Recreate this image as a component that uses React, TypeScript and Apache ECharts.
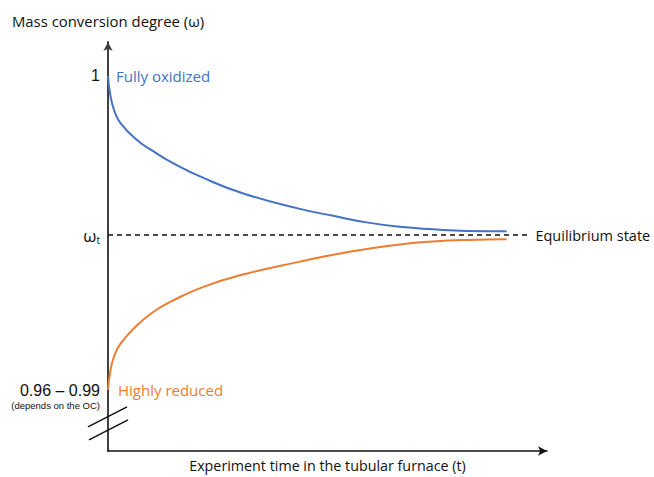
import React, { useEffect, useRef } from "react";
import * as echarts from "echarts";

// time (relative units, 0..100) and mass conversion degree (relative units, 0..100)
const timeValues = [0, 0.46, 1.37, 2.89, 6.67, 10.47, 14.28, 21.87, 31.0, 43.7, 51.3, 58.9, 66.5, 74.0, 81.7, 90.8];
const oxidizedValues = [91.7, 87.5, 83.4, 80.1, 76.0, 73.2, 70.7, 66.7, 62.9, 59.2, 57.5, 55.9, 54.8, 54.2, 53.8, 53.7];
const reducedValues = [14.9, 19.0, 23.1, 26.3, 30.8, 34.1, 36.5, 40.2, 43.2, 46.3, 48.0, 49.4, 50.5, 51.2, 51.6, 51.8];
const equilibriumValue = 52.8;
const equilibriumEnd = 96.0;
// break marks on the y axis: [x1, y1, x2, y2]
const breakMarks = [
  [-4.56, 5.9, 4.33, 10.8],
  [-4.33, 2.7, 4.56, 7.6],
];
const yTickValues = [reducedValues[0], equilibriumValue, oxidizedValues[0]];
const yTickLabels = [
  "{e| }\n{a|0.96 – 0.99}\n{b|(depends on the OC)}",
  "{w|ω}{s|t}",
  "{a|1}",
];

const BLUE = "#4472C4";
const ORANGE = "#ED7D31";
const FONT = "'Open Sans', sans-serif";

export default function App() {
  const ref = useRef<HTMLDivElement>(null);
  useEffect(() => {
    if (!ref.current) return;
    const chart = echarts.init(ref.current, undefined, { renderer: "svg" });
    const blue = timeValues.map((t, i) => [t, oxidizedValues[i]]);
    const orange = timeValues.map((t, i) => [t, reducedValues[i]]);
    chart.setOption({
      animation: false,
      backgroundColor: "#ffffff",
      grid: { left: 108, right: 107, top: 42, bottom: 26, containLabel: false, outerBoundsMode: "none" },
      xAxis: {
        type: "value",
        min: 0,
        max: 100,
        name: "Experiment time in the tubular furnace (t)",
        nameLocation: "middle",
        nameGap: 7,
        nameTextStyle: { fontFamily: FONT, fontSize: 14.3, color: "#111" },
        axisLine: { show: true, lineStyle: { color: "#111", width: 1.5 }, symbol: ["none", "arrow"], symbolSize: [7, 9] },
        axisTick: { show: false },
        axisLabel: { show: false },
        splitLine: { show: false },
      },
      yAxis: {
        type: "value",
        min: 0,
        max: 100,
        name: "Mass conversion degree (ω)",
        nameLocation: "end",
        nameGap: 14,
        nameTextStyle: { fontFamily: FONT, fontSize: 14.9, color: "#111" },
        axisLine: { show: true, lineStyle: { color: "#404040", width: 2 }, symbol: ["none", "arrow"], symbolSize: [7, 9] },
        axisTick: { show: false },
        splitLine: { show: false },
        axisLabel: {
          show: true,
          customValues: yTickValues,
          margin: 8,
          formatter: (v: number) => {
            const i = yTickValues.findIndex((x) => Math.abs(x - v) < 1e-6);
            return i >= 0 ? yTickLabels[i] : "";
          },
          rich: {
            e: { fontSize: 9.5, lineHeight: 13 },
            a: { fontFamily: "'Liberation Sans', Arial, sans-serif", fontSize: 16, lineHeight: 18, color: "#111", align: "right" },
            b: { fontFamily: "'Liberation Sans', Arial, sans-serif", fontSize: 9.5, lineHeight: 13, color: "#111", align: "right" },
            w: { fontFamily: FONT, fontSize: 17, color: "#111" },
            s: { fontFamily: FONT, fontSize: 10, color: "#111", padding: [9, 0, 0, 0] },
          },
        },
      },
      series: [
        {
          type: "line",
          data: blue,
          showSymbol: false,
          smooth: 0.5,
          lineStyle: { color: BLUE, width: 2 },
          itemStyle: { color: BLUE },
          markPoint: {
            symbol: "circle",
            symbolSize: 0,
            data: [
              {
                coord: blue[0],
                label: { show: true, position: "right", distance: 8, formatter: "Fully oxidized", color: BLUE, fontFamily: FONT, fontSize: 15 },
              },
            ],
          },
          z: 3,
        },
        {
          type: "line",
          data: orange,
          showSymbol: false,
          smooth: 0.5,
          lineStyle: { color: ORANGE, width: 2 },
          itemStyle: { color: ORANGE },
          markPoint: {
            symbol: "circle",
            symbolSize: 0,
            data: [
              {
                coord: orange[0],
                label: { show: true, position: "right", distance: 10, formatter: "Highly reduced", color: ORANGE, fontFamily: FONT, fontSize: 15 },
              },
            ],
          },
          z: 3,
        },
        {
          type: "line",
          data: [
            [0, equilibriumValue],
            [equilibriumEnd, equilibriumValue],
          ],
          showSymbol: false,
          lineStyle: { color: "#111", width: 1.5, type: [5, 4] },
          itemStyle: { color: "#111" },
          endLabel: { show: true, formatter: "Equilibrium state", distance: 6, color: "#111", fontFamily: FONT, fontSize: 14.5 },
          z: 2,
        },
        {
          type: "custom",
          clip: false,
          data: breakMarks,
          encode: { x: [0, 2], y: [1, 3] },
          renderItem: (params: any, api: any) => {
            const p1 = api.coord([api.value(0), api.value(1)]);
            const p2 = api.coord([api.value(2), api.value(3)]);
            return {
              type: "line",
              shape: { x1: p1[0], y1: p1[1], x2: p2[0], y2: p2[1] },
              style: { stroke: "#111", lineWidth: 1.5 },
            };
          },
          z: 5,
        },
      ],
    });
    return () => chart.dispose();
  }, []);
  return <div ref={ref} style={{ width: 654, height: 477, position: "absolute", left: 0, top: 0 }} />;
}
